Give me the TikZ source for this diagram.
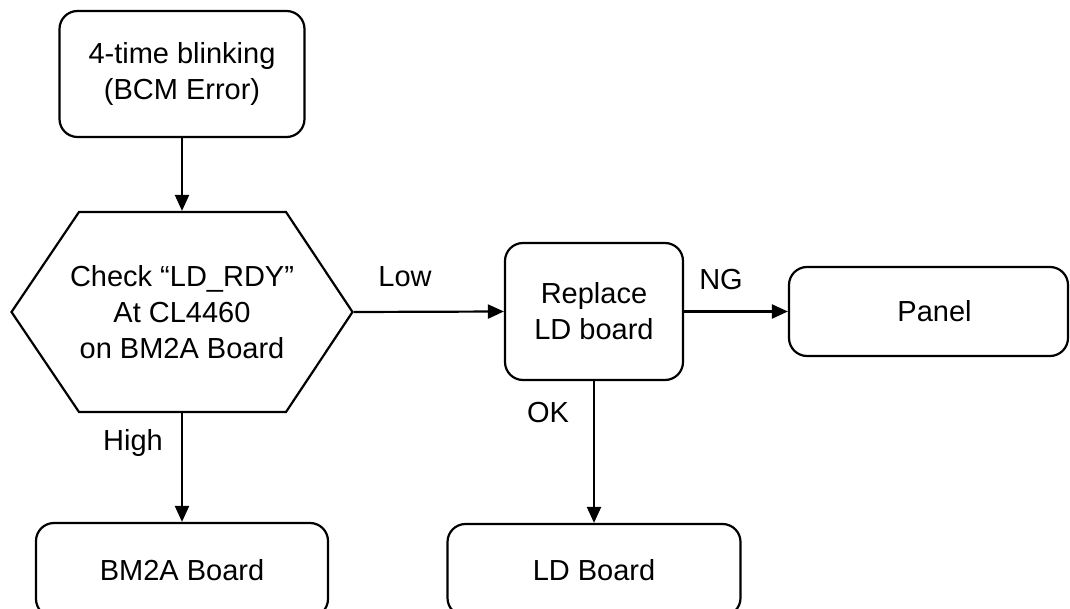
\documentclass[tikz,border=0pt]{standalone}
\usepackage{fontspec}
\setmainfont{Liberation Sans}
\usetikzlibrary{arrows.meta}

\begin{document}
\begin{tikzpicture}[x=1pt, y=-1pt, line width=2.2pt,
  every node/.style={font=\fontsize{29}{36}\selectfont, align=center},
  box/.style={draw, line width=2.2pt, rounded corners=18pt, inner sep=0pt},
  arr/.style={line width=2.2pt, -{Triangle[length=16pt,width=14pt]}},
  lbl/.style={inner sep=0pt}]
\useasboundingbox (0,0) rectangle (1070,609);

\node[box, minimum width=245pt, minimum height=126pt] (blink) at (182,74) {\raisebox{-4pt}{\parbox{230pt}{\centering 4-time blinking\\(BCM Error)}}};

\draw[line width=2.2pt] (11.5,312) -- (79,212) -- (286,212) -- (352.5,312) -- (286,412) -- (79,412) -- cycle;
\node[inner sep=0pt, minimum width=341pt, minimum height=200pt] (check) at (182,312) {Check “LD\_RDY”\\At CL4460\\on BM2A Board};

\node[box, minimum width=178pt, minimum height=137pt] (replace) at (594,311.5) {Replace\\LD board};
\node[box, minimum width=279pt, minimum height=89pt] (panel) at (928.5,311.5) {\hspace*{12pt}Panel};
\node[box, minimum width=292pt, minimum height=94pt] (bm2a) at (182,570) {BM2A Board};
\node[box, minimum width=293pt, minimum height=92pt] (ldb) at (594,570) {LD Board};

\draw[arr] (blink) -- (check);
\draw[arr] (check.east) -- (replace.west);
\draw[arr] (replace) -- (panel);
\draw[arr] (check) -- (bm2a);
\draw[arr] (replace) -- (ldb);

\node[lbl] (low) at (405,277) {Low};
\node[lbl] (ng) at (721,280) {NG};
\node[lbl] (ok) at (548,413) {OK};
\node[lbl] (high) at (133,443) {High};

\end{tikzpicture}
\end{document}
